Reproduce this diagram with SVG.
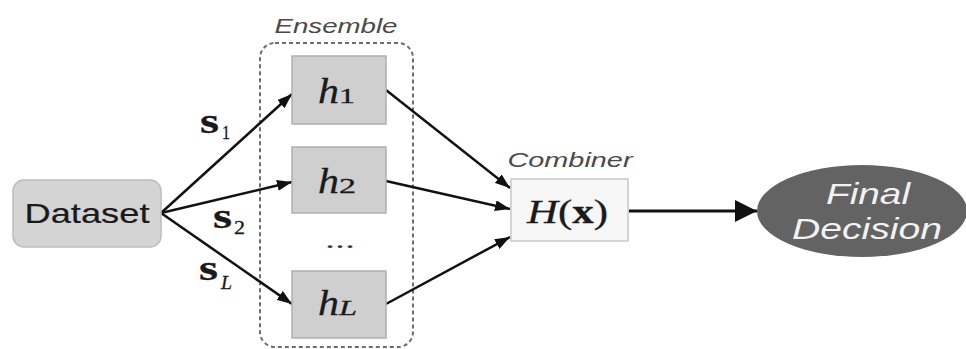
<svg xmlns="http://www.w3.org/2000/svg" width="966" height="349" viewBox="0 0 966 349">
  <style>
    .sans { font-family: "Liberation Sans", Arial, sans-serif; }
    .serif { font-family: "Liberation Serif", "Times New Roman", serif; }
    .label { font-style: italic; fill: #4a4a4a; }
    .hbox { fill: #cfcfcf; stroke: #b0b0b0; stroke-width: 1.5; }
    .edge { stroke: #111; stroke-width: 2.5; fill: none; }
    .math { fill: #1a1a1a; stroke: #1a1a1a; stroke-width: 0.3; }
  </style>
  <defs>
    <marker id="arrow" viewBox="0 0 15 11" refX="15" refY="5.5" markerWidth="15" markerHeight="11" markerUnits="userSpaceOnUse" orient="auto">
      <path d="M0,0 L15,5.5 L0,11 z" fill="#111"/>
    </marker>
    <marker id="arrowBig" viewBox="0 0 22 22" refX="22" refY="11" markerWidth="22" markerHeight="22" markerUnits="userSpaceOnUse" orient="auto">
      <path d="M0,0 L22,11 L0,22 z" fill="#111"/>
    </marker>
  </defs>

  <rect width="966" height="349" fill="#ffffff"/>

  <!-- ensemble frame -->
  <g id="ensemble">
    <rect x="260" y="43" width="153" height="304" rx="15" fill="none" stroke="#6e6e6e" stroke-width="2" stroke-dasharray="4 3"/>
    <text class="sans label" x="336" y="33" font-size="21" text-anchor="middle" textLength="123" lengthAdjust="spacingAndGlyphs">Ensemble</text>
  </g>

  <!-- connectors -->
  <g id="connectors" class="edge">
    <line x1="161" y1="213" x2="292" y2="94" marker-end="url(#arrow)"/>
    <line x1="161" y1="213" x2="292" y2="182" marker-end="url(#arrow)"/>
    <line x1="161" y1="213" x2="292" y2="304" marker-end="url(#arrow)"/>
    <line x1="386" y1="90" x2="510" y2="188" marker-end="url(#arrow)"/>
    <line x1="386" y1="181" x2="510" y2="209" marker-end="url(#arrow)"/>
    <line x1="386" y1="304" x2="510" y2="237" marker-end="url(#arrow)"/>
    <line x1="629" y1="211" x2="757" y2="211" stroke-width="2.8" marker-end="url(#arrowBig)"/>
  </g>

  <!-- sample labels -->
  <g id="edge-labels" class="serif math">
    <text x="200" y="133" font-size="36" font-weight="bold" textLength="19" lengthAdjust="spacingAndGlyphs">s</text>
    <text x="222" y="139" font-size="18" textLength="8" lengthAdjust="spacingAndGlyphs">1</text>
    <text x="213" y="228" font-size="36" font-weight="bold" textLength="19" lengthAdjust="spacingAndGlyphs">s</text>
    <text x="234" y="234" font-size="18" textLength="11" lengthAdjust="spacingAndGlyphs">2</text>
    <text x="199" y="280" font-size="36" font-weight="bold" textLength="19" lengthAdjust="spacingAndGlyphs">s</text>
    <text x="221" y="289" font-size="18" font-style="italic" textLength="11" lengthAdjust="spacingAndGlyphs">L</text>
  </g>

  <g id="dataset">
    <rect x="13" y="180" width="148" height="67" rx="11" fill="#d4d4d4" stroke="#bdbdbd" stroke-width="1.5"/>
    <text class="sans" x="87" y="223" font-size="28" fill="#1a1a1a" stroke="#1a1a1a" stroke-width="0.2" text-anchor="middle" textLength="125" lengthAdjust="spacingAndGlyphs">Dataset</text>
  </g>

  <g id="h1">
    <rect class="hbox" x="292" y="56" width="94" height="68"/>
    <text class="serif math" x="318" y="103" font-size="36" font-style="italic" textLength="21" lengthAdjust="spacingAndGlyphs">h</text>
    <text class="serif math" x="339" y="103" font-size="21" textLength="16" lengthAdjust="spacingAndGlyphs">1</text>
  </g>

  <g id="h2">
    <rect class="hbox" x="292" y="147" width="94" height="66"/>
    <text class="serif math" x="318" y="193" font-size="36" font-style="italic" textLength="21" lengthAdjust="spacingAndGlyphs">h</text>
    <text class="serif math" x="339" y="193" font-size="21" textLength="17" lengthAdjust="spacingAndGlyphs">2</text>
  </g>

  <g id="dots">
    <text class="serif" x="340" y="248" font-size="24" fill="#333" text-anchor="middle" textLength="30" lengthAdjust="spacingAndGlyphs">...</text>
  </g>

  <g id="hL">
    <rect class="hbox" x="292" y="271" width="94" height="67"/>
    <text class="serif math" x="318" y="315" font-size="36" font-style="italic" textLength="21" lengthAdjust="spacingAndGlyphs">h</text>
    <text class="serif math" x="339" y="315" font-size="21" font-style="italic" textLength="18" lengthAdjust="spacingAndGlyphs">L</text>
  </g>

  <g id="combiner">
    <text class="sans label" x="570" y="167" font-size="21" text-anchor="middle" textLength="125" lengthAdjust="spacingAndGlyphs">Combiner</text>
    <rect x="511" y="179" width="117" height="62" fill="#f7f7f7" stroke="#c8c8c8" stroke-width="1.5"/>
    <text class="serif math" x="527" y="223" font-size="33" textLength="81" lengthAdjust="spacingAndGlyphs"><tspan font-style="italic">H</tspan>(<tspan font-weight="bold">x</tspan>)</text>
  </g>

  <g id="final-decision">
    <ellipse cx="862" cy="211" rx="105" ry="46" fill="#636363"/>
    <text class="sans" x="868" y="204" font-size="29" font-style="italic" fill="#f2f2f2" text-anchor="middle" textLength="84" lengthAdjust="spacingAndGlyphs">Final</text>
    <text class="sans" x="867" y="239" font-size="29" font-style="italic" fill="#f2f2f2" text-anchor="middle" textLength="150" lengthAdjust="spacingAndGlyphs">Decision</text>
  </g>
</svg>
